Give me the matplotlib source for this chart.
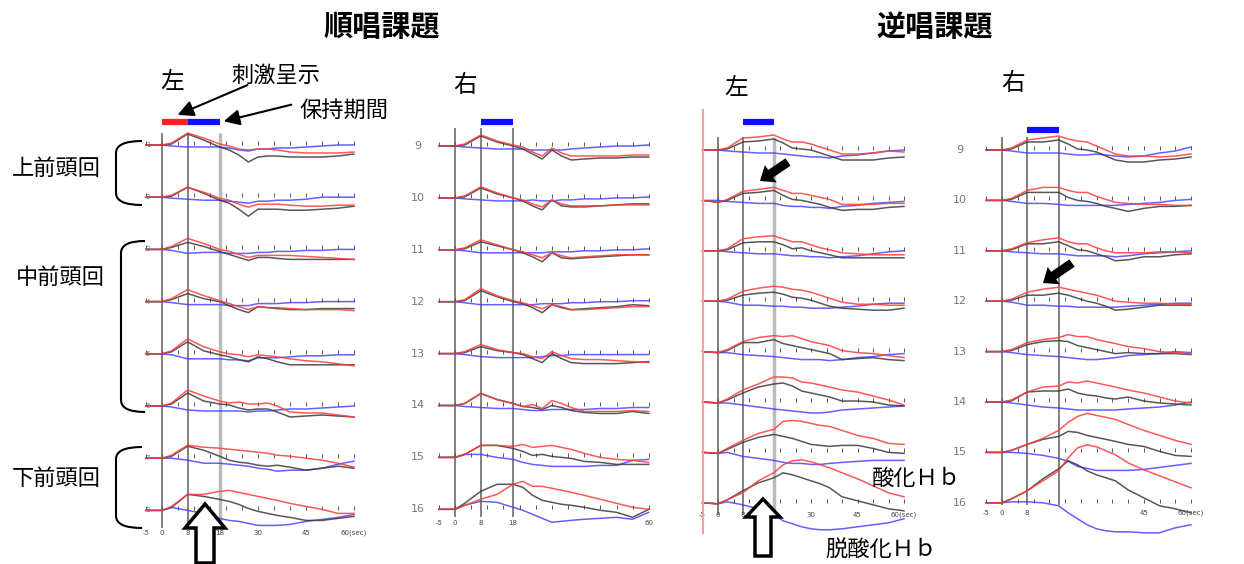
import numpy as np
import matplotlib.pyplot as plt
from matplotlib.patches import Polygon, PathPatch
from matplotlib.path import Path

plt.rcParams['font.family'] = ['Noto Sans CJK JP', 'DejaVu Sans']

# time axis (sec) and traces (change from baseline, arbitrary units)
T = [-5, 0, 3, 8, 13, 18, 21, 24, 27, 30, 33, 36, 40, 45, 50, 55, 60]

# 順唱課題 左 (ch1-8)
jun_L_oxy = [
    [0, 0, 2, 12, 7, 1, -1, -4, -5, -4, -4, -5, -7, -8, -8, -8, -7],
    [0, 0, 2, 10, 5, -1, -3, -7, -10, -7, -7, -7, -8, -9, -9, -8, -8],
    [0, 0, 3, 11, 6, 0, -2, -5, -8, -6, -6, -6, -6, -7, -8, -9, -10],
    [0, 0, 3, 12, 6, 1, -2, -5, -8, -5, -6, -6, -7, -8, -8, -8, -9],
    [0, 0, 3, 15, 7, 2, 0, -1, -3, -1, -2, -3, -5, -7, -8, -10, -12],
    [0, 0, 3, 16, 10, 5, 3, 4, 2, 2, 3, 0, -6, -7, -7, -9, -11],
    [0, 0, 3, 13, 11, 10, 9, 8, 7, 6, 5, 3, 2, 0, -2, -5, -9],
    [0, 0, 4, 16, 16, 19, 20, 18, 16, 14, 12, 10, 7, 4, 1, -3, -3],
]
jun_L_deoxy = [
    [0, 0, -1, -2, -2, -2, -3, -5, -6, -4, -4, -3, -3, -2, -1, 0, 0],
    [0, 0, -1, -2, -3, -3, -4, -5, -6, -4, -4, -3, -3, -2, 0, 0, 0],
    [0, 0, -1, -4, -3, -3, -4, -4, -4, -3, -3, -2, -2, -1, -1, 0, 0],
    [0, 0, -1, -3, -3, -3, -4, -4, -4, -2, -2, -2, -1, -1, 0, 0, 0],
    [0, 0, -1, -5, -5, -5, -6, -6, -7, -4, -4, -4, -3, -2, -2, -1, -1],
    [0, 0, -1, -4, -5, -5, -5, -5, -6, -5, -5, -4, -3, -3, -2, -1, 0],
    [0, 0, 0, -2, -5, -5, -6, -7, -8, -10, -11, -13, -12, -12, -10, -6, -3],
    [0, 0, 3, 0, -3, -8, -10, -11, -13, -15, -15, -15, -14, -11, -9, -7, -4],
]
jun_L_total = [
    [0, 0, 1, 11, 5, -2, -5, -10, -17, -12, -11, -11, -12, -12, -12, -11, -9],
    [0, 0, 1, 10, 4, -3, -6, -12, -19, -12, -12, -12, -13, -13, -12, -11, -9],
    [0, 0, 2, 7, 3, -2, -5, -8, -11, -8, -8, -9, -10, -10, -10, -10, -10],
    [0, 0, 2, 8, 3, 0, -4, -8, -11, -5, -6, -7, -8, -8, -7, -7, -7],
    [0, 0, 2, 12, 3, -1, -3, -6, -8, -3, -5, -8, -11, -11, -11, -11, -11],
    [0, 0, 2, 13, 5, 2, 1, -2, -4, -3, -3, -6, -11, -10, -9, -10, -11],
    [0, 0, 2, 12, 8, 2, -2, -4, -5, -7, -8, -7, -9, -12, -10, -8, -10],
    [0, 0, 3, 16, 14, 11, 9, 6, 2, -1, -3, -5, -7, -10, -10, -8, -6],
]

# 順唱課題 右 (ch9-16)
jun_R_oxy = [
    [0, 0, 2, 11, 5, 1, -1, -6, -10, -2, -7, -10, -10, -10, -10, -9, -9],
    [0, 0, 2, 11, 5, 0, -2, -6, -9, -2, -6, -8, -8, -8, -7, -7, -7],
    [0, 0, 2, 10, 5, 0, -2, -5, -8, -3, -6, -8, -7, -6, -5, -5, -5],
    [0, 0, 2, 13, 6, 1, -1, -4, -7, -3, -5, -8, -8, -7, -6, -5, -5],
    [0, 0, 2, 9, 4, 1, 0, -3, -5, 2, -2, -5, -6, -6, -7, -8, -9],
    [0, 0, 2, 12, 6, 2, -1, 1, -3, 5, 2, -2, -6, -6, -6, -5, -6],
    [0, 0, 3, 12, 12, 11, 13, 10, 11, 12, 10, 8, 4, 0, -2, -3, -5],
    [0, 0, 4, 10, 15, 25, 28, 23, 23, 21, 19, 17, 14, 10, 6, 2, 0],
]
jun_R_deoxy = [
    [0, 0, -1, -2, -3, -3, -3, -4, -4, -4, -4, -3, -2, -1, 0, 0, 1],
    [0, 0, -1, -2, -3, -3, -3, -2, -3, -3, -2, -2, -1, -1, 0, 0, 1],
    [0, 0, -1, -3, -3, -3, -3, -3, -3, -2, -2, -2, -1, -1, 0, 0, 1],
    [0, 0, -1, -3, -3, -3, -3, -3, -2, -2, -2, -1, -1, 0, 0, 1, 1],
    [0, 0, -1, -3, -4, -4, -4, -4, -3, -2, -2, -1, -1, -1, -1, -1, -1],
    [0, 0, -1, -2, -3, -3, -4, -5, -5, -4, -4, -4, -4, -3, -3, -2, -2],
    [0, 0, 3, 3, 0, -2, -5, -7, -8, -9, -9, -9, -9, -8, -8, -3, -2],
    [0, 0, 4, 8, 7, 2, -1, -5, -9, -13, -12, -11, -10, -9, -8, -10, -3],
]
jun_R_total = [
    [0, 0, 1, 10, 4, 0, -3, -8, -13, -4, -10, -14, -13, -12, -12, -11, -11],
    [0, 0, 1, 10, 4, 0, -3, -8, -12, -2, -8, -9, -9, -8, -7, -6, -6],
    [0, 0, 1, 8, 4, 0, -3, -7, -12, -3, -8, -9, -8, -7, -6, -5, -5],
    [0, 0, 1, 11, 5, 0, -2, -6, -11, -3, -6, -8, -7, -6, -5, -3, -4],
    [0, 0, 1, 7, 3, 1, -1, -5, -9, 0, -5, -9, -10, -10, -10, -9, -8],
    [0, 0, 2, 12, 6, 2, -1, -2, -4, 0, -2, -5, -7, -8, -8, -6, -8],
    [0, 0, 3, 12, 12, 9, 6, 2, 3, 1, 0, -1, -4, -5, -7, -7, -7],
    [0, 0, 6, 18, 25, 25, 22, 14, 9, 7, 5, 4, 2, -1, -3, -8, 0],
]

# 逆唱課題 左 (ch1-8)
gyaku_L_oxy = [
    [0, 0, 2, 12, 13, 15, 11, 8, 8, 6, 3, 0, -4, -4, -3, -1, -2],
    [0, -2, 1, 9, 11, 13, 10, 7, 7, 5, 3, 1, -4, -4, -4, -3, -3],
    [0, 0, 2, 12, 14, 15, 12, 9, 9, 6, 3, 1, -2, -3, -4, -4, -4],
    [0, 0, 2, 10, 13, 15, 14, 12, 11, 9, 6, 3, -1, -3, -3, -4, -4],
    [0, -1, 2, 10, 14, 16, 15, 16, 13, 10, 8, 6, 1, -1, -2, -4, -6],
    [0, -1, 3, 12, 18, 25, 25, 24, 20, 19, 17, 15, 12, 10, 6, 2, -3],
    [0, -1, 4, 12, 19, 23, 31, 32, 31, 29, 27, 26, 22, 17, 14, 9, 8],
    [0, -1, 3, 10, 22, 30, 38, 42, 43, 41, 38, 35, 30, 24, 17, 10, 6],
]
gyaku_L_deoxy = [
    [0, 0, -1, -2, -3, -3, -4, -5, -6, -7, -7, -8, -6, -5, -3, -1, 0],
    [0, 0, -1, -2, -3, -3, -5, -6, -6, -7, -7, -8, -6, -5, -3, -2, -1],
    [0, 0, -1, -2, -3, -3, -4, -5, -5, -6, -6, -7, -6, -5, -3, -1, 0],
    [0, 0, -1, -4, -4, -5, -5, -6, -6, -7, -7, -7, -6, -5, -3, -2, -2],
    [0, -1, -1, -3, -4, -5, -6, -7, -8, -8, -8, -9, -8, -6, -5, -3, -2],
    [0, -1, -1, -3, -5, -7, -8, -9, -10, -11, -11, -10, -8, -7, -6, -5, -4],
    [0, -1, 0, -4, -6, -8, -10, -11, -11, -12, -12, -11, -10, -9, -8, -8, -8],
    [0, -1, 1, -2, -6, -12, -18, -21, -24, -26, -27, -27, -26, -24, -22, -20, -16],
]
gyaku_L_total = [
    [0, 0, 1, 8, 9, 11, 7, 2, 1, 0, -3, -6, -10, -10, -10, -8, -7],
    [0, -2, 0, 7, 8, 10, 5, 1, 0, -2, -4, -7, -10, -9, -9, -7, -6],
    [0, 0, 1, 8, 9, 9, 6, 2, 3, 0, -2, -4, -7, -7, -7, -7, -7],
    [0, 0, 1, 6, 8, 9, 7, 4, 3, 1, -2, -5, -7, -8, -9, -9, -7],
    [0, -1, 1, 9, 9, 12, 8, 6, 4, 2, 0, -2, -8, -7, -6, -8, -9],
    [0, -1, 2, 9, 15, 18, 19, 16, 11, 9, 7, 5, 1, 1, 0, -3, -4],
    [0, -1, 3, 10, 15, 18, 16, 14, 11, 8, 7, 6, 7, 7, 4, 0, -1],
    [0, -1, 3, 12, 20, 25, 30, 28, 25, 22, 19, 15, 6, 2, -2, -6, -8],
]

# 逆唱課題 右 (ch9-16)
gyaku_R_oxy = [
    [0, 0, 2, 10, 12, 14, 11, 9, 8, 4, 0, -4, -6, -6, -7, -6, -4],
    [0, 0, 2, 10, 13, 13, 10, 8, 8, 4, 1, -2, -3, -4, -4, -5, -5],
    [0, 0, 2, 8, 11, 13, 9, 7, 7, 3, 0, -2, -2, -2, -1, -1, -2],
    [0, 0, 2, 9, 12, 14, 12, 10, 8, 6, 3, 0, -1, -2, -2, -3, -3],
    [0, 0, 2, 9, 12, 14, 17, 15, 15, 12, 10, 8, 5, 3, 0, -1, -2],
    [0, 0, 2, 10, 15, 16, 20, 19, 21, 19, 17, 15, 12, 9, 5, 1, -1],
    [0, 0, 2, 8, 14, 22, 30, 36, 39, 37, 35, 33, 28, 22, 17, 12, 8],
    [0, 0, 4, 12, 22, 32, 45, 55, 58, 56, 52, 48, 40, 33, 27, 21, 15],
]
gyaku_R_deoxy = [
    [0, 0, -1, -3, -3, -3, -4, -5, -5, -4, -5, -6, -7, -6, -3, -1, 3],
    [0, 0, -1, -3, -3, -4, -5, -5, -5, -5, -5, -5, -4, -3, -2, 0, 1],
    [0, 0, -1, -2, -3, -3, -4, -5, -5, -5, -5, -6, -5, -3, -2, -1, 0],
    [0, 0, -1, -4, -4, -5, -5, -6, -6, -6, -6, -6, -5, -4, -3, -2, -2],
    [0, 0, -1, -3, -4, -5, -6, -7, -8, -8, -7, -6, -4, -3, -2, 0, -1],
    [0, 0, -1, -3, -5, -6, -7, -8, -8, -8, -8, -8, -7, -6, -5, -3, 0],
    [0, 0, 0, -1, -3, -6, -9, -14, -16, -18, -18, -18, -18, -17, -15, -13, -11],
    [0, 0, 1, 1, 0, -3, -10, -16, -22, -26, -28, -29, -29, -30, -30, -25, -22],
]
gyaku_R_total = [
    [0, 0, 1, 8, 8, 10, 6, 1, 0, -2, -6, -10, -12, -12, -10, -9, -7],
    [0, 0, 1, 8, 8, 8, 3, 0, -1, -3, -6, -8, -11, -8, -6, -6, -5],
    [0, 0, 1, 7, 7, 9, 5, 1, 0, -3, -6, -10, -9, -6, -6, -4, -3],
    [0, 0, 1, 6, 6, 8, 6, 3, 0, -2, -5, -9, -8, -6, -4, -4, -4],
    [0, 0, 1, 7, 10, 11, 10, 6, 4, 2, 0, -2, -1, -2, -2, -2, -3],
    [0, 0, 1, 10, 11, 11, 13, 9, 7, 6, 4, 3, 5, 1, -1, -2, -3],
    [0, 0, 2, 8, 13, 16, 21, 20, 17, 15, 13, 11, 8, 6, 1, -3, -4],
    [0, 0, 4, 12, 24, 34, 42, 38, 32, 28, 25, 22, 13, 5, -3, -6, -10],
]

ch_left = [str(i) for i in range(1, 9)]
ch_right = [str(i) for i in range(9, 17)]
markers = [0, 8, 18]   # stimulus onset, end of stimulus, end of retention

W, H = 1244, 564
RED, BLUE, BLACK = '#ff3b3b', '#3b3bff', '#3a3a3a'

fig = plt.figure(figsize=(W / 100, H / 100), dpi=100)


def panel(x0, s, y0, dy, oxy, deoxy, total, labels, lab_x, lab_fs,
          vtop, vbot, light_last, bar_y, red_bar, xlabels, xlab_y):
    ax = fig.add_axes([0, 0, 1, 1])
    ax.set_xlim(-x0 / s, (W - x0) / s)
    ax.set_ylim(H, 0)
    ax.axis('off')
    ticks = np.arange(-5, 61, 5)
    for i in range(8):
        base = y0 + dy * i
        ax.vlines(ticks, base - 4, base, color='#555555', lw=0.7)
        ax.plot(T, base - np.array(deoxy[i]), color=BLUE, lw=1.1, alpha=0.8)
        ax.plot(T, base - np.array(total[i]), color=BLACK, lw=1.1, alpha=0.85)
        ax.plot(T, base - np.array(oxy[i]), color=RED, lw=1.1, alpha=0.85)
        if lab_x is not None:
            ax.text((lab_x - x0) / s, base, labels[i], fontsize=lab_fs,
                    color='#777777', ha='center', va='center',
                    family='DejaVu Sans')
    for k, m in enumerate(markers):
        light = light_last and k == 2
        ax.vlines(m, vtop, vbot, color='#bbbbbb' if light else '#777777',
                  lw=2.5 if light else 1.3, zorder=0)
    if red_bar:
        ax.plot([0, 8], [bar_y, bar_y], color='#ff2020', lw=4.5,
                solid_capstyle='butt')
    ax.plot([8, 18], [bar_y, bar_y], color='#1010ff', lw=4.5,
            solid_capstyle='butt')
    for t, lab in xlabels:
        ax.text(t, xlab_y, lab, fontsize=5, color='#444444', ha='center',
                va='center', family='DejaVu Sans')
    return ax


panel(162, 3.2, 145, 52.2, jun_L_oxy, jun_L_deoxy, jun_L_total,
      ch_left, 148, 5, 133, 528, True, 122, True,
      [(-5, '-5'), (0, '0'), (8, '8'), (18, '18'), (30, '30'), (45, '45'),
       (60, '60(sec)')], 533)
panel(455, 3.23, 146, 51.9, jun_R_oxy, jun_R_deoxy, jun_R_total,
      ch_right, 418, 8, 128, 517, False, 122, False,
      [(-5, '-5'), (0, '0'), (8, '8'), (18, '18'), (60, '60')], 523)
panel(718, 3.1, 150, 50.4, gyaku_L_oxy, gyaku_L_deoxy, gyaku_L_total,
      ch_left, None, 5, 137, 515, True, 122, False,
      [(-5, '-5'), (0, '0'), (8, '8'), (30, '30'), (45, '45'),
       (60, '60(sec)')], 515)
panel(1002, 3.15, 150, 50.4, gyaku_R_oxy, gyaku_R_deoxy, gyaku_R_total,
      ch_right, 960, 8, 137, 505, False, 130, False,
      [(-5, '-5'), (0, '0'), (8, '8'), (45, '45'), (60, '60(sec)')], 513)

# overlay for annotations, in pixel coordinates
ov = fig.add_axes([0, 0, 1, 1])
ov.set_xlim(0, W)
ov.set_ylim(H, 0)
ov.axis('off')

ov.plot([703, 703], [110, 533], color='#f5a0a0', lw=1.5)

ov.text(382, 27, '順唱課題', fontsize=21, fontweight='bold', ha='center', va='center')
ov.text(935, 27, '逆唱課題', fontsize=21, fontweight='bold', ha='center', va='center')
for x, y, s in [(172, 82, '左'), (465, 86, '右'), (736, 89, '左'), (1013, 83, '右')]:
    ov.text(x, y, s, fontsize=17, ha='center', va='center')
ov.text(276, 75, '刺激呈示', fontsize=16, ha='center', va='center')
ov.text(344, 110, '保持期間', fontsize=16, ha='center', va='center')
ov.text(56, 168, '上前頭回', fontsize=16, ha='center', va='center')
ov.text(60, 277, '中前頭回', fontsize=16, ha='center', va='center')
ov.text(56, 478, '下前頭回', fontsize=16, ha='center', va='center')
ov.text(916, 478, '酸化Ｈｂ', fontsize=16, ha='center', va='center')
ov.text(881, 550, '脱酸化Ｈｂ', fontsize=16, ha='center', va='center')

ap = dict(arrowstyle='-|>', color='black', lw=1.5, mutation_scale=24)
ov.annotate('', xy=(175, 116), xytext=(250, 84), arrowprops=ap)
ov.annotate('', xy=(221, 122), xytext=(294, 104), arrowprops=ap)


def bracket(top, bot, spine, tip):
    r = 12
    verts = [(tip, top), (spine, top), (spine, top + r), (spine, bot - r),
             (spine, bot), (tip, bot)]
    codes = [Path.MOVETO, Path.CURVE3, Path.CURVE3, Path.LINETO,
             Path.CURVE3, Path.CURVE3]
    ov.add_patch(PathPatch(Path(verts, codes), fc='none', ec='black', lw=1.5))


bracket(141, 205, 116, 142)
bracket(241, 412, 121, 145)
bracket(447, 528, 116, 142)


def fat_arrow(tail, tip, shaft, head, head_len, fc, lw=0.0):
    p0, p1 = np.array(tail, float), np.array(tip, float)
    d = (p1 - p0) / np.linalg.norm(p1 - p0)
    n = np.array([-d[1], d[0]])
    hb = p1 - d * head_len
    pts = [p0 + n * shaft / 2, hb + n * shaft / 2, hb + n * head / 2, p1,
           hb - n * head / 2, hb - n * shaft / 2, p0 - n * shaft / 2]
    ov.add_patch(Polygon(pts, closed=True, fc=fc, ec='black', lw=lw,
                         joinstyle='miter'))


fat_arrow((205, 563), (205, 504), 18, 40, 24, 'white', 2.5)
fat_arrow((763, 556), (763, 499), 16, 34, 18, 'white', 2.5)
fat_arrow((788, 162), (760, 181), 9, 21, 13, 'black')
fat_arrow((1072, 263), (1043, 283), 9, 21, 13, 'black')

fig.savefig('out.png', dpi=100)
